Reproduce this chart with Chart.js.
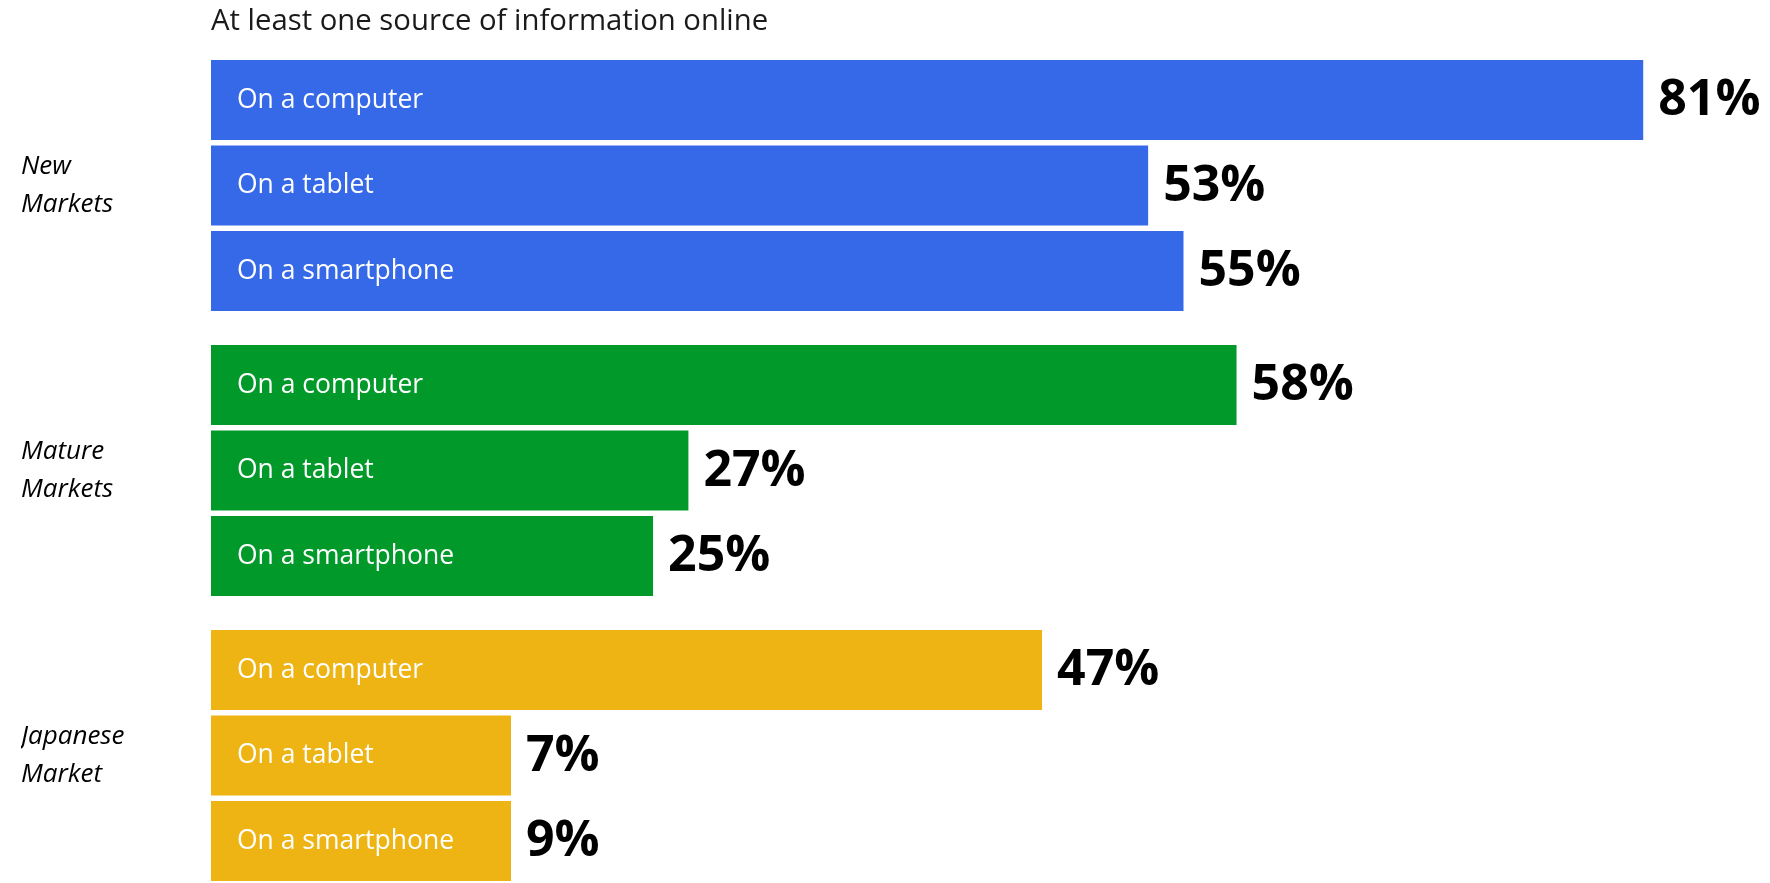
<!DOCTYPE html>
<html>
<head>
<meta charset="utf-8">
<title>At least one source of information online</title>
<script src="https://cdn.jsdelivr.net/npm/chart.js@4/dist/chart.umd.min.js"></script>
<style>
  html, body { margin: 0; padding: 0; background: #ffffff; overflow: hidden; }
  #frame { width: 1770px; height: 883px; overflow: hidden; position: relative; }
  canvas { display: block; }
</style>
</head>
<body>
<div id="frame"><canvas id="chart" width="1770" height="900"></canvas></div>
<script>
// Share of people using at least one online source of information, by market and device (%)
const chartTitle = "At least one source of information online";
const markets = [["New", "Markets"], ["Mature", "Markets"], ["Japanese", "Market"]];
const devices = ["On a computer", "On a tablet", "On a smartphone"];
const computerShare = [81, 58, 47];
const tabletShare = [53, 27, 7];
const smartphoneShare = [55, 25, 9];

const marketColors = ["#3569E8", "#00992A", "#EDB414"];
const FONT = "'Open Sans', 'Noto Sans', sans-serif";

const deviceSeries = [computerShare, tabletShare, smartphoneShare];

// Writes the device name inside each bar and the percentage just past its end
const barLabels = {
  id: "barLabels",
  afterDatasetsDraw(chart) {
    const ctx = chart.ctx;
    ctx.save();
    ctx.textBaseline = "middle";
    chart.data.datasets.forEach((ds, di) => {
      const meta = chart.getDatasetMeta(di);
      meta.data.forEach((bar, i) => {
        const { x, y, base } = bar.getProps(["x", "y", "base"], true);
        ctx.textAlign = "left";
        ctx.fillStyle = "#ffffff";
        ctx.font = `400 26.5px ${FONT}`;
        ctx.fillText(ds.label, base + 26, y);
        ctx.fillStyle = "#000000";
        ctx.font = `700 50px ${FONT}`;
        ctx.fillText(ds.data[i] + "%", x + 15, y + 1);
      });
    });
    ctx.restore();
  }
};

new Chart(document.getElementById("chart"), {
  type: "bar",
  data: {
    labels: markets,
    datasets: devices.map((name, k) => ({
      label: name,
      data: deviceSeries[k],
      backgroundColor: marketColors,
      borderWidth: 0,
      minBarLength: 300,
      barPercentage: 0.933,
      categoryPercentage: 0.9
    }))
  },
  options: {
    indexAxis: "y",
    responsive: false,
    animation: false,
    events: [],
    layout: { padding: { left: 21, right: 3, top: 0, bottom: 2 } },
    plugins: {
      legend: { display: false },
      tooltip: { enabled: false },
      title: { display: false }
    },
    scales: {
      x: {
        position: "top",
        min: 0,
        max: 88,
        grid: { display: false },
        border: { display: false },
        ticks: { display: false },
        title: {
          display: true,
          text: chartTitle,
          align: "start",
          color: "#1a1a1a",
          font: { family: FONT, size: 29.3, weight: "400" },
          padding: { top: 4, bottom: 0 }
        },
        afterFit(scale) { scale.height = 43; }
      },
      y: {
        grid: { display: false },
        border: { display: false },
        ticks: {
          crossAlign: "far",
          color: "#000000",
          font: { family: FONT, size: 26, style: "italic", lineHeight: 1.46 }
        },
        afterFit(scale) {
          scale.width = 190;
          // group names sit beside their bars; no extra room above or below the plot
          scale.paddingTop = 0;
          scale.paddingBottom = 0;
        }
      }
    }
  },
  plugins: [barLabels]
});
</script>
</body>
</html>
